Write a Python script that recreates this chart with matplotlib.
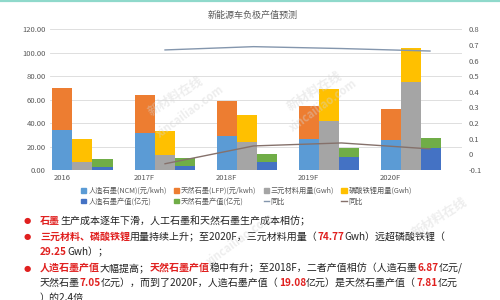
import numpy as np
import matplotlib
matplotlib.use("Agg")
import matplotlib.pyplot as plt
from matplotlib.lines import Line2D
from matplotlib.patches import Patch
from matplotlib.ticker import FuncFormatter

plt.rcParams['font.family'] = ['Noto Sans CJK SC', 'DejaVu Sans']

# data
years = ['2016', '2017F', '2018F', '2019F', '2020F']
cost_ncm = [34.3, 31.3, 29.2, 26.4, 25.5]          # 人造石墨(NCM)(元/kwh)
cost_lfp = [35.8, 32.6, 29.8, 28.3, 26.4]          # 天然石墨(LFP)(元/kwh)
use_ternary = [6.8, 12.8, 23.6, 41.7, 74.77]       # 三元材料用量(Gwh)
use_lfp = [20.0, 20.4, 23.2, 27.0, 29.25]          # 磷酸铁锂用量(Gwh)
val_artificial = [2.3, 3.7, 6.87, 11.3, 19.08]     # 人造石墨产值(亿元)
val_natural = [6.8, 6.8, 7.05, 7.7, 7.81]          # 天然石墨产值(亿元)
yoy_1 = [0.668, 0.689, 0.677, 0.661]               # 同比
yoy_2 = [-0.06, 0.054, 0.073, 0.035]               # 同比
line_x = [1.25, 2.33, 3.40, 4.48]

C_BLUE, C_ORANGE, C_GRAY = '#5B9BD5', '#ED7D31', '#A5A5A5'
C_YELLOW, C_DBLUE, C_GREEN = '#FFC000', '#4472C4', '#70AD47'
C_L1, C_L2 = '#8496ad', '#85716b'
TXT = '#595959'
RED = '#e0201f'

W, H = 500, 300
fig = plt.figure(figsize=(5, 3), dpi=100)
fig.patch.set_facecolor('white')
ax = fig.add_axes([50 / W, 1 - 170 / H, 412 / W, 140.7 / H])
ax2 = ax.twinx()

x = np.arange(len(years))
w = 0.244
ax.bar(x, cost_ncm, w, color=C_BLUE, zorder=2)
ax.bar(x, cost_lfp, w, bottom=cost_ncm, color=C_ORANGE, zorder=2)
ax.bar(x + w, use_ternary, w, color=C_GRAY, zorder=2)
ax.bar(x + w, use_lfp, w, bottom=use_ternary, color=C_YELLOW, zorder=2)
ax.bar(x + 2 * w, val_artificial, w, color=C_DBLUE, zorder=2)
ax.bar(x + 2 * w, val_natural, w, bottom=val_artificial, color=C_GREEN, zorder=2)

ax2.plot(line_x, yoy_1, color=C_L1, lw=1.0)
ax2.plot(line_x, yoy_2, color=C_L2, lw=1.0)

ax.set_xlim(-0.152, 4.87)
ax.set_ylim(0, 120)
ax.set_yticks(np.arange(0, 121, 20))
ax.yaxis.set_major_formatter(FuncFormatter(lambda v, p: f'{v:.2f}'))
ax.set_xticks(x)
ax.set_xticklabels(years)
ax.grid(axis='y', color='#d9d9d9', lw=0.6, zorder=0)
ax.set_axisbelow(True)

ax2.set_ylim(-0.1, 0.8)
ax2.set_yticks(np.round(np.arange(-0.1, 0.81, 0.1), 1))
ax2.yaxis.set_major_formatter(FuncFormatter(lambda v, p: '0' if abs(v) < 1e-9 else f'{v:.1f}'))

for a in (ax, ax2):
    for s in a.spines.values():
        s.set_visible(False)
    a.tick_params(length=0, labelsize=5.5, labelcolor=TXT)
ax.tick_params(axis='y', pad=3)
ax.tick_params(axis='x', pad=3)
ax2.tick_params(axis='y', pad=4.5)
ax2.set_zorder(ax.get_zorder() + 1)
ax2.patch.set_visible(False)

fig.text(253 / W, 1 - 15 / H, '新能源车负极产值预测', fontsize=6.5, color=TXT,
         ha='center', va='center')

# legend, ordered column by column so rows read across
handles = [
    Patch(color=C_BLUE), Patch(color=C_DBLUE),
    Patch(color=C_ORANGE), Patch(color=C_GREEN),
    Patch(color=C_GRAY), Line2D([], [], color=C_L1, lw=1),
    Patch(color=C_YELLOW), Line2D([], [], color=C_L2, lw=1),
]
labels = [
    '人造石墨(NCM)(元/kwh)', '人造石墨产值(亿元)',
    '天然石墨(LFP)(元/kwh)', '天然石墨产值(亿元)',
    '三元材料用量(Gwh)', '同比',
    '磷酸铁锂用量(Gwh)', '同比',
]
leg = fig.legend(handles, labels, ncol=4, loc='upper left',
                 bbox_to_anchor=(81 / W, 1 - 187 / H), fontsize=5.2, frameon=False,
                 handlelength=0.7, handleheight=0.6, handletextpad=0.3,
                 columnspacing=1.0, labelspacing=0.35, borderaxespad=0, borderpad=0)
for t in leg.get_texts():
    t.set_color(TXT)

# top border
fig.add_artist(Line2D([0, 1], [1 - 0.8 / H, 1 - 0.8 / H], color='#8fd9cb', lw=1.6))

# watermarks
for (wx, wy, s, rot, fs) in [(176, 97, '新材料在线', 32, 9), (190, 112, 'xincailiao.com', 36, 8),
                             (315, 92, '新材料在线', 32, 9), (323, 106, 'xincailiao.com', 36, 8),
                             (240, 240, 'xincailiao.com', 36, 8), (440, 218, '新材料在线', 32, 9)]:
    fig.text(wx / W, 1 - wy / H, s, fontsize=fs, color='#d4d4d4', alpha=0.4,
             rotation=rot, ha='center', va='center', fontweight='bold', zorder=5)

# text block below the chart
renderer = fig.canvas.get_renderer()
FS = 7.2


def draw_runs(x0, y0, runs):
    xp = x0
    for s, red in runs:
        t = fig.text(xp / W, 1 - y0 / H, s, fontsize=FS,
                     color=RED if red else '#222222',
                     fontweight='bold' if red else 'normal',
                     ha='left', va='center')
        xp += t.get_window_extent(renderer=renderer).width


lines = [
    (221, True, [('石墨', True), ('生产成本逐年下滑，人工石墨和天然石墨生产成本相仿；', False)]),
    (237, True, [('三元材料、磷酸铁锂', True), ('用量持续上升；至2020F，三元材料用量（', False),
                 ('74.77', True), ('Gwh）远超磷酸铁锂（', False)]),
    (252, False, [('29.25', True), ('Gwh）；', False)]),
    (268, True, [('人造石墨产值', True), ('大幅提高；', False), ('天然石墨产值', True),
                 ('稳中有升；至2018F，二者产值相仿（人造石墨', False), ('6.87', True), ('亿元/', False)]),
    (283, False, [('天然石墨', False), ('7.05', True), ('亿元），而到了2020F，人造石墨产值（', False),
                  ('19.08', True), ('亿元）是天然石墨产值（', False), ('7.81', True), ('亿元', False)]),
    (298, False, [('）的2.4倍', False)]),
]
for y0, bullet, runs in lines:
    if bullet:
        fig.text(27 / W, 1 - y0 / H, '●', fontsize=6, color=RED, ha='center', va='center',
                 family=['DejaVu Sans'])
    draw_runs(40, y0, runs)

fig.savefig('out.png', dpi=100)
